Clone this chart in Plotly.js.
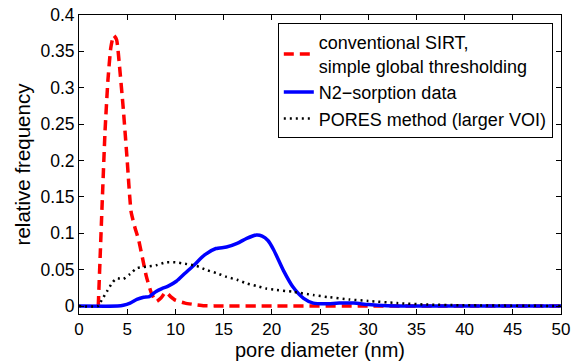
<!DOCTYPE html>
<html>
<head>
<meta charset="utf-8">
<script src="https://cdn.plot.ly/plotly-3.0.1.min.js"></script>
<style>html,body{margin:0;padding:0;background:#fff;}#chart{width:571px;height:361px;}</style>
</head>
<body>
<div id="chart"></div>
<script>
// Conventional SIRT, simple global thresholding (red dashed)
var sirtX = [2.0, 2.2, 2.4, 2.7, 3.0, 3.3, 3.6, 3.9, 4.2, 4.6, 5.0, 5.4, 5.8, 6.2, 6.6, 7.0, 7.5, 8.0, 8.5, 9.0, 9.5, 10.0, 11.0, 12.0, 13.0, 15.0, 20.0, 30.0, 40.0, 50.0];
var sirtY = [0.0, 0.07, 0.14, 0.24, 0.31, 0.355, 0.372, 0.366, 0.33, 0.27, 0.2, 0.13, 0.108, 0.09, 0.065, 0.04, 0.018, 0.006, 0.011, 0.019, 0.013, 0.008, 0.004, 0.002, 0.0005, 0.0, 0.0, 0.0, 0.0, 0.0];

// N2-sorption data (blue solid)
var n2X = [0, 4.0, 4.6, 5.3, 6.0, 6.7, 7.3, 8.0, 8.6, 9.2, 10.1, 11.0, 12.0, 13.0, 14.2, 15.3, 16.4, 17.4, 18.4, 19.0, 19.6, 20.2, 21.2, 22.2, 23.3, 24.3, 25.5, 27.0, 28.5, 30.0, 32.0, 35.0, 50.0];
var n2Y = [0, 0, 0.001, 0.004, 0.009, 0.012, 0.013, 0.02, 0.024, 0.027, 0.034, 0.045, 0.057, 0.07, 0.079, 0.081, 0.086, 0.093, 0.0975, 0.096, 0.09, 0.077, 0.049, 0.026, 0.0105, 0.004, 0.003, 0.004, 0.004, 0.002, 0.0005, 0, 0];

// PORES method (larger VOI) (black dotted)
var poresX = [0, 2.0, 2.35, 2.9, 3.4, 3.9, 4.6, 5.3, 6.0, 7.0, 8.0, 9.0, 10.0, 11.0, 12.2, 13.2, 14.3, 15.3, 16.4, 17.4, 18.4, 19.4, 20.5, 22.2, 24.3, 26.0, 28.0, 30.0, 33.0, 36.0, 40.0, 50.0];
var poresY = [0, 0, 0.008, 0.02, 0.031, 0.038, 0.037, 0.044, 0.052, 0.054, 0.056, 0.06, 0.06, 0.058, 0.055, 0.0495, 0.045, 0.04, 0.036, 0.031, 0.0275, 0.024, 0.022, 0.0195, 0.015, 0.012, 0.009, 0.007, 0.004, 0.002, 0.001, 0];

var xTicks = [0, 5, 10, 15, 20, 25, 30, 35, 40, 45, 50];
var yTicks = [0, 0.05, 0.1, 0.15, 0.2, 0.25, 0.3, 0.35, 0.4];
var yTickText = ["0", "0.05", "0.1", "0.15", "0.2", "0.25", "0.3", "0.35", "0.4"];

var font = "Liberation Sans, Arial, sans-serif";

var traces = [
  {x: sirtX, y: sirtY, type: "scatter", mode: "lines", name: "conventional SIRT,<br>simple global thresholding",
   line: {color: "#ff0000", width: 3.5, dash: "10px,6px", shape: "spline", smoothing: 0.5}},
  {x: n2X, y: n2Y, type: "scatter", mode: "lines", name: "N2\u2212sorption data",
   line: {color: "#0000ff", width: 3.5, shape: "spline", smoothing: 0.6}},
  {x: poresX, y: poresY, type: "scatter", mode: "lines", name: "PORES method (larger VOI)",
   line: {color: "#000000", width: 2.5, dash: "2px,4px", shape: "spline", smoothing: 0.6}}
];

var layout = {
  width: 571, height: 361,
  margin: {l: 79, r: 10, t: 15, b: 47, pad: 0},
  paper_bgcolor: "#fff", plot_bgcolor: "#fff",
  font: {family: font, size: 17, color: "#000"},
  showlegend: true,
  legend: {x: 0.983, y: 0.973, xanchor: "right", yanchor: "top",
    bordercolor: "#000", borderwidth: 1, bgcolor: "#fff",
    font: {family: font, size: 18, color: "#000"}, tracegroupgap: 0},
  xaxis: {range: [0, 50], tickvals: xTicks, ticktext: xTicks.map(String),
    ticks: "inside", ticklen: 5, tickcolor: "#000", showline: true, linecolor: "#000", linewidth: 1,
    mirror: "ticks", showgrid: false, zeroline: false,
    tickfont: {family: font, size: 17, color: "#000"},
    title: {text: "pore diameter (nm)", font: {family: font, size: 20, color: "#000"}, standoff: 6}},
  yaxis: {range: [-0.011, 0.4], tickvals: yTicks, ticktext: yTickText,
    ticks: "inside", ticklen: 5, tickcolor: "#000", showline: true, linecolor: "#000", linewidth: 1,
    mirror: "ticks", showgrid: false, zeroline: false,
    tickfont: {family: font, size: 17.5, color: "#000"},
    title: {text: "relative frequency", font: {family: font, size: 20.5, color: "#000"}, standoff: 4}}
};

Plotly.newPlot("chart", traces, layout, {displayModeBar: false, staticPlot: true});
</script>
</body>
</html>
